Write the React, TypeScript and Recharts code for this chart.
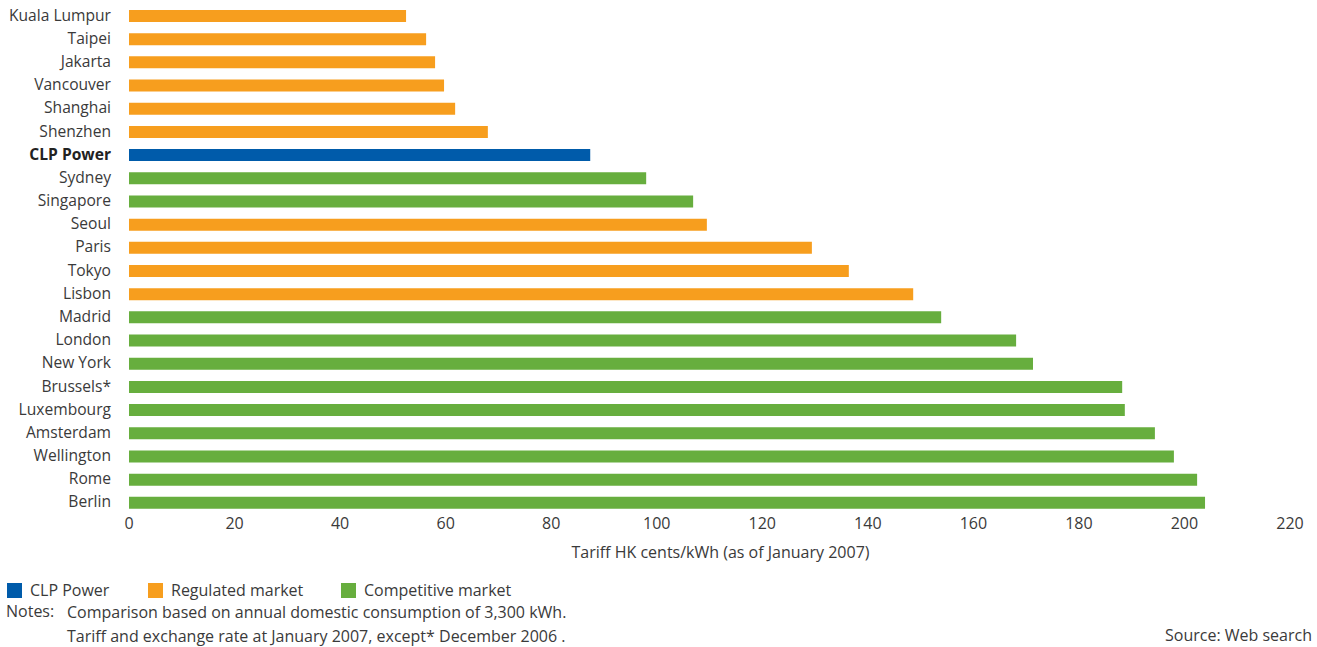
import { BarChart, Bar, Cell, XAxis, YAxis } from "recharts";

const cities = [
  "Kuala Lumpur", "Taipei", "Jakarta", "Vancouver", "Shanghai", "Shenzhen", "CLP Power",
  "Sydney", "Singapore", "Seoul", "Paris", "Tokyo", "Lisbon", "Madrid", "London",
  "New York", "Brussels*", "Luxembourg", "Amsterdam", "Wellington", "Rome", "Berlin",
];
const tariffs = [
  52.5, 56.3, 58.0, 59.7, 61.8, 68.0, 87.4,
  98.0, 106.9, 109.5, 129.4, 136.4, 148.6, 153.9, 168.1,
  171.3, 188.2, 188.7, 194.4, 198.0, 202.4, 203.9,
];
// c = CLP, r = regulated, m = competitive
const markets = [
  "r", "r", "r", "r", "r", "r", "c",
  "m", "m", "r", "r", "r", "r", "m", "m",
  "m", "m", "m", "m", "m", "m", "m",
];
const xTicks = [0, 20, 40, 60, 80, 100, 120, 140, 160, 180, 200, 220];

const COLORS: Record<string, string> = { c: "#005BAA", r: "#F79E1E", m: "#67AE3E" };
const TEXT = "#3a3a3a";
const FONT = "'Open Sans', 'Noto Sans', sans-serif";

const data = cities.map((city, i) => ({ city, value: tariffs[i], market: markets[i] }));

const CityTick = (props: any) => {
  const { x, y, payload } = props;
  const bold = payload.value === "CLP Power";
  return (
    <text
      x={x}
      y={y}
      dy={5}
      textAnchor="end"
      fill={bold ? "#222" : TEXT}
      fontSize={15.6}
      fontWeight={bold ? 700 : 400}
      fontFamily={FONT}
    >
      {payload.value}
    </text>
  );
};

const legendItems = [
  { label: "CLP Power", color: COLORS.c, left: 7 },
  { label: "Regulated market", color: COLORS.r, left: 148 },
  { label: "Competitive market", color: COLORS.m, left: 341 },
];

export default function App() {
  return (
    <div
      style={{
        position: "absolute",
        left: 0,
        top: 0,
        width: 1317,
        height: 647,
        background: "#fff",
        fontFamily: FONT,
        color: TEXT,
      }}
    >
      <BarChart
        width={1317}
        height={570}
        data={data}
        layout="vertical"
        margin={{ top: 4, right: 27, bottom: 0, left: 0 }}
        barCategoryGap={0}
      >
        <XAxis
          type="number"
          domain={[0, 220]}
          ticks={xTicks}
          axisLine={false}
          tickLine={false}
          tickSize={0}
          tickMargin={4}
          height={56}
          tick={{ fill: TEXT, fontSize: 16, fontFamily: FONT }}
          label={{
            value: "Tariff HK cents/kWh (as of January 2007)",
            position: "insideBottom",
            offset: 12,
            dx: 11,
            fill: TEXT,
            fontSize: 16,
            fontFamily: FONT,
          }}
        />
        <YAxis
          type="category"
          dataKey="city"
          width={129}
          axisLine={false}
          tickLine={false}
          tickSize={0}
          tickMargin={18}
          interval={0}
          tick={<CityTick />}
        />
        <Bar dataKey="value" barSize={12} isAnimationActive={false}>
          {data.map((d, i) => (
            <Cell key={`cell-${i}`} fill={COLORS[d.market]} />
          ))}
        </Bar>
      </BarChart>

      {legendItems.map((item) => (
        <div
          key={item.label}
          style={{
            position: "absolute",
            left: item.left,
            top: 582,
            display: "flex",
            alignItems: "center",
            fontSize: 16,
            lineHeight: "16px",
          }}
        >
          <span style={{ width: 15, height: 15, background: item.color, marginRight: 8 }} />
          <span>{item.label}</span>
        </div>
      ))}

      <div style={{ position: "absolute", left: 6, top: 600, fontSize: 16, lineHeight: "22px" }}>
        Notes:
      </div>
      <div style={{ position: "absolute", left: 67, top: 600, fontSize: 16, lineHeight: "24px" }}>
        <div>Comparison based on annual domestic consumption of 3,300 kWh.</div>
        <div>Tariff and exchange rate at January 2007, except* December 2006 .</div>
      </div>
      <div style={{ position: "absolute", right: 5, top: 624, fontSize: 16, lineHeight: "22px" }}>
        Source: Web search
      </div>
    </div>
  );
}
